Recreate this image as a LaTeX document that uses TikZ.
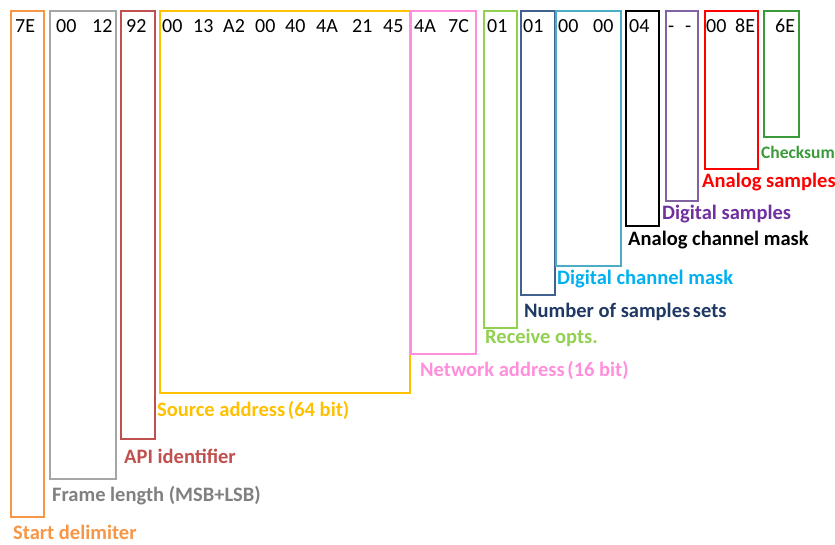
\documentclass[tikz,border=0pt]{standalone}
\usepackage{fontspec}
\setmainfont{Carlito}
\definecolor{naranja}{HTML}{F79646}
\definecolor{gris}{HTML}{A6A6A6}
\definecolor{grisosc}{HTML}{808080}
\definecolor{ladrillo}{HTML}{C0504D}
\definecolor{oro}{HTML}{FFC000}
\definecolor{rosa}{HTML}{FF8FDC}
\definecolor{lima}{HTML}{92D050}
\definecolor{marino}{HTML}{41618F}
\definecolor{marinoosc}{HTML}{1F3864}
\definecolor{celeste}{HTML}{4BACC6}
\definecolor{cielo}{HTML}{00B0F0}
\definecolor{violeta}{HTML}{8064A2}
\definecolor{morado}{HTML}{7030A0}
\definecolor{verde}{HTML}{3A9A3A}
\tikzset{
  campo/.style={line width=2.6pt},
  etiqueta/.style={anchor=west,inner sep=0pt,font=\fontsize{20.5}{22}\selectfont\bfseries},
  byte/.style={anchor=base west,inner sep=0pt,font=\fontsize{20}{22}\selectfont}
}
\begin{document}
\begin{tikzpicture}[x=1pt,y=-1pt]
\useasboundingbox (0,0) rectangle (835,545);
%
% campos de la trama
\draw[campo,naranja] (11,11) rectangle (44,517);
\draw[campo,gris] (50,11) rectangle (116,479);
\draw[campo,ladrillo] (121,11) rectangle (155,439);
\draw[campo,oro] (160,11) rectangle (410,393);
\draw[campo,rosa] (411,11) rectangle (476,354);
\draw[campo,lima] (484,11) rectangle (517,328);
\draw[campo,marino] (521,11) rectangle (555,295);
\draw[campo,celeste] (556,11) rectangle (621,266);
\draw[campo,black] (626,11) rectangle (659,226);
\draw[campo,violeta] (666,11) rectangle (698,201);
\draw[campo,red] (705,11) rectangle (758,169);
\draw[campo,verde] (764,11) rectangle (799,137);
%
% bytes
\foreach \x/\t [count=\i] in {15/7E,56/00,92/12,126/92,162/00,193/13,223/A2,255/00,%
285/40,316/4A,352/21,383/45,414/4A,448/7C,487/01,523/01,558/00,593/00,629/04,%
668/-,685/-,706/00,735/8E,775/6E}
\node[byte] (b\i) at (\x,33) {\t};
%
% etiquetas
\node[etiqueta,naranja] (inicio) at (13,532) {Start delimiter};
\node[etiqueta,grisosc] (longitud) at (52,496) {Frame length (MSB+LSB)};
\node[etiqueta,ladrillo] (api) at (124,456) {API identifier};
\node[etiqueta,oro] (origen) at (157,410) {Source address\hspace{-2pt} (64 bit)};
\node[etiqueta,rosa] (red16) at (420,370) {Network address\hspace{-2pt} (16 bit)};
\node[etiqueta,lima] (opciones) at (485,338) {Receive opts.};
\node[etiqueta,marinoosc] (muestras) at (524,312) {Number of samples\hspace{-2pt} sets};
\node[etiqueta,cielo] (mascdig) at (557,279) {Digital channel mask};
\node[etiqueta,black] (mascana) at (628,240) {Analog channel mask};
\node[etiqueta,morado] (digitales) at (662,214) {Digital samples};
\node[etiqueta,red] (analogicas) at (702,182) {Analog samples};
\node[etiqueta,verde,font=\fontsize{17.5}{19}\selectfont\bfseries] (suma) at (761,152) {Checksum};
\end{tikzpicture}
\end{document}
